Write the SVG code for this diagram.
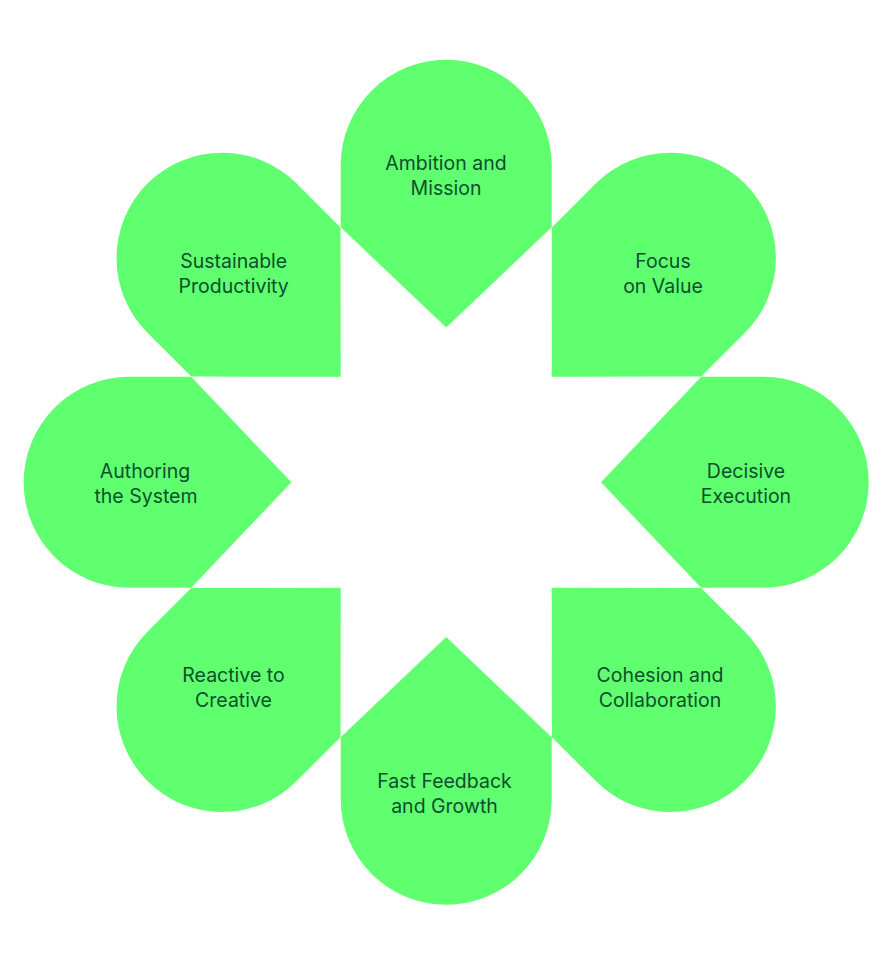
<svg xmlns="http://www.w3.org/2000/svg" xmlns:xlink="http://www.w3.org/1999/xlink" width="893" height="963" viewBox="0 0 893 963">
  <style>
    .petal { fill: #5fff6f; stroke: none; }
    .label { font-family: Inter, "Noto Sans", "Liberation Sans", sans-serif; font-size: 19.5px; fill: #0c4f2d; text-anchor: middle; }
  </style>
  <defs>
    <path id="cardinal" d="M 0 -154.8 L -105.5 -255 L -105.5 -317 A 105.5 105.5 0 0 1 105.5 -317 L 105.5 -255 Z"/>
    <path id="diagonal" d="M 0 -149.2 L -105.5 -255 L -105.5 -317 A 105.5 105.5 0 0 1 105.5 -317 L 105.5 -255 Z"/>
  </defs>
  <rect width="893" height="963" fill="#ffffff"/>
  <g id="connectors"/>
  <g id="ambition-and-mission">
    <use xlink:href="#cardinal" class="petal" transform="translate(446.2 482.3)"/>
    <text class="label" x="446" y="170">Ambition and</text>
    <text class="label" x="446" y="195">Mission</text>
  </g>
  <g id="focus-on-value">
    <use xlink:href="#diagonal" class="petal" transform="translate(446.2 482.3) rotate(45)"/>
    <text class="label" x="663" y="267.5">Focus</text>
    <text class="label" x="663" y="292.5">on Value</text>
  </g>
  <g id="decisive-execution">
    <use xlink:href="#cardinal" class="petal" transform="translate(446.2 482.3) rotate(90)"/>
    <text class="label" x="746" y="477.7">Decisive</text>
    <text class="label" x="746" y="502.7">Execution</text>
  </g>
  <g id="cohesion-and-collaboration">
    <use xlink:href="#diagonal" class="petal" transform="translate(446.2 482.3) rotate(135)"/>
    <text class="label" x="660" y="681.5">Cohesion and</text>
    <text class="label" x="660" y="706.5">Collaboration</text>
  </g>
  <g id="fast-feedback-and-growth">
    <use xlink:href="#cardinal" class="petal" transform="translate(446.2 482.3) rotate(180)"/>
    <text class="label" x="444.5" y="787.7">Fast Feedback</text>
    <text class="label" x="444.5" y="812.7">and Growth</text>
  </g>
  <g id="reactive-to-creative">
    <use xlink:href="#diagonal" class="petal" transform="translate(446.2 482.3) rotate(225)"/>
    <text class="label" x="233.5" y="681.5">Reactive to</text>
    <text class="label" x="233.5" y="706.5">Creative</text>
  </g>
  <g id="authoring-the-system">
    <use xlink:href="#cardinal" class="petal" transform="translate(446.2 482.3) rotate(270)"/>
    <text class="label" x="145" y="478">Authoring</text>
    <text class="label" x="146" y="503">the System</text>
  </g>
  <g id="sustainable-productivity">
    <use xlink:href="#diagonal" class="petal" transform="translate(446.2 482.3) rotate(315)"/>
    <text class="label" x="233.7" y="267.7">Sustainable</text>
    <text class="label" x="233.7" y="292.7">Productivity</text>
  </g>
</svg>
